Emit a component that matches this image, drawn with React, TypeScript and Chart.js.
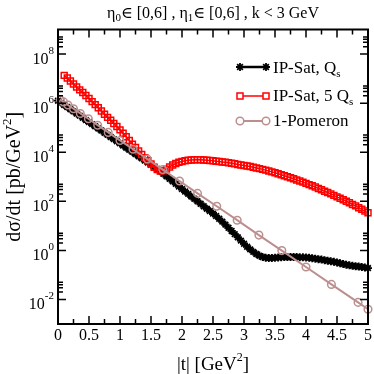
import React, { useEffect, useRef } from "react";
import { Chart, registerables } from "chart.js";

Chart.register(...registerables);

const FONT = '"Liberation Serif", "DejaVu Serif", serif';

// |t| grid (GeV^2) for the IP-Sat curves
const tGrid = [
  0, 0.05, 0.1, 0.15, 0.2, 0.25, 0.3, 0.35, 0.4, 0.45, 0.5, 0.55, 0.6, 0.65, 0.7, 0.75, 0.8, 0.85, 0.9, 0.95,
  1, 1.05, 1.1, 1.15, 1.2, 1.25, 1.3, 1.35, 1.4, 1.45, 1.5, 1.55, 1.6, 1.65, 1.7, 1.75, 1.8, 1.85, 1.9, 1.95,
  2, 2.05, 2.1, 2.15, 2.2, 2.25, 2.3, 2.35, 2.4, 2.45, 2.5, 2.55, 2.6, 2.65, 2.7, 2.75, 2.8, 2.85, 2.9, 2.95,
  3, 3.05, 3.1, 3.15, 3.2, 3.25, 3.3, 3.35, 3.4, 3.45, 3.5, 3.55, 3.6, 3.65, 3.7, 3.75, 3.8, 3.85, 3.9, 3.95,
  4, 4.05, 4.1, 4.15, 4.2, 4.25, 4.3, 4.35, 4.4, 4.45, 4.5, 4.55, 4.6, 4.65, 4.7, 4.75, 4.8, 4.85, 4.9, 4.95, 5,
];

// IP-Sat, Qs  (t = 0 ... 5)
const ipSatQs = [
  1.26e6, 1.03e6, 8.43e5, 6.9e5, 5.65e5, 4.62e5, 3.78e5, 3.1e5, 2.54e5, 2.07e5, 1.7e5, 1.39e5, 1.14e5, 9.31e4,
  7.62e4, 6.24e4, 5.11e4, 4.18e4, 3.42e4, 2.8e4, 2.29e4, 1.87e4, 1.53e4, 1.26e4, 1.03e4, 8.41e3, 6.89e3, 5.64e3,
  4.61e3, 3.78e3, 3.09e3, 2.53e3, 2.07e3, 1.66e3, 1.32e3, 1.05e3, 832, 653, 513, 403, 316, 251, 200, 158, 126,
  100, 79, 63, 50, 40, 31.6, 25.1, 19.5, 14.8, 11.2, 8.3, 6.2, 4.6, 3.4, 2.5, 1.86, 1.41, 1.1, 0.87, 0.71, 0.6,
  0.54, 0.5, 0.49, 0.49, 0.5, 0.51, 0.52, 0.54, 0.54, 0.54, 0.54, 0.54, 0.52, 0.52, 0.51, 0.5, 0.48, 0.46, 0.44,
  0.42, 0.4, 0.38, 0.36, 0.34, 0.32, 0.3, 0.28, 0.26, 0.245, 0.234, 0.224, 0.219, 0.209, 0.2, 0.19,
];

// IP-Sat, 5 Qs  (t = 0.1 ... 5)
const ipSat5Qs = [
  1.35e7, 1.05e7, 7.94e6, 6.03e6, 4.57e6, 3.47e6, 2.69e6, 2.04e6, 1.55e6, 1.15e6, 8.71e5, 6.46e5, 4.79e5, 3.55e5,
  2.63e5, 2.0e5, 1.48e5, 1.12e5, 8.13e4, 5.89e4, 4.27e4, 3.02e4, 2.14e4, 1.55e4, 1.12e4, 8.13e3, 6.03e3, 4.47e3,
  3.31e3, 2.45e3, 1.95e3, 1.7e3, 1.74e3, 2.04e3, 2.51e3, 3.02e3, 3.47e3, 3.89e3, 4.17e3, 4.47e3, 4.68e3, 4.79e3,
  4.9e3, 4.9e3, 4.9e3, 4.79e3, 4.68e3, 4.57e3, 4.47e3, 4.27e3, 4.17e3, 3.98e3, 3.89e3, 3.72e3, 3.55e3, 3.39e3,
  3.16e3, 3.02e3, 2.88e3, 2.75e3, 2.63e3, 2.45e3, 2.29e3, 2.14e3, 2.0e3, 1.86e3, 1.7e3, 1.58e3, 1.45e3, 1.32e3,
  1.2e3, 1.1e3, 1.0e3, 912, 832, 741, 676, 603, 537, 479, 427, 380, 331, 295, 257, 229, 200, 174, 151, 132, 115,
  100, 87, 74, 65, 55, 47, 40, 34,
];

// 1-Pomeron
const pomT = [0.04, 0.09, 0.16, 0.25, 0.36, 0.49, 0.64, 0.81, 1.0, 1.21, 1.44, 1.69, 1.96, 2.25, 2.56, 2.89, 3.24, 3.61, 4.0, 4.41, 4.84, 5.0];
const pomV = [1.35e6, 1.12e6, 8.4e5, 5.9e5, 3.8e5, 2.3e5, 1.26e5, 6.4e4, 3.0e4, 1.32e4, 5.3e3, 1.96e3, 670, 210, 63, 17, 4.2, 0.98, 0.21, 0.041, 0.0076, 0.004];

const xTickValues = [0, 0.5, 1, 1.5, 2, 2.5, 3, 3.5, 4, 4.5, 5];
const xTickLabels = ["0", "0.5", "1", "1.5", "2", "2.5", "3", "3.5", "4", "4.5", "5"];
const xMinorValues = [0.25, 0.75, 1.25, 1.75, 2.25, 2.75, 3.25, 3.75, 4.25, 4.75];
const yExponents = [8, 6, 4, 2, 0, -2];
const yExpLabels = ["8", "6", "4", "2", "0", "-2"];
const yMinorMultipliers = [2, 3, 4, 5];

type Part = { t: string; s: number; dy?: number };

function drawRich(ctx: CanvasRenderingContext2D, parts: Part[], x: number, y: number, align: "left" | "center" | "right") {
  let w = 0;
  for (const p of parts) {
    ctx.font = `${p.s}px ${FONT}`;
    w += ctx.measureText(p.t).width;
  }
  let cx = align === "left" ? x : align === "center" ? x - w / 2 : x - w;
  ctx.textAlign = "left";
  ctx.textBaseline = "alphabetic";
  for (const p of parts) {
    ctx.font = `${p.s}px ${FONT}`;
    ctx.fillText(p.t, cx, y + (p.dy || 0));
    cx += ctx.measureText(p.t).width;
  }
}

function drawStar(ctx: CanvasRenderingContext2D, x: number, y: number, r: number) {
  ctx.beginPath();
  for (let k = 0; k < 4; k++) {
    const a = (k * Math.PI) / 4;
    ctx.moveTo(x - r * Math.cos(a), y - r * Math.sin(a));
    ctx.lineTo(x + r * Math.cos(a), y + r * Math.sin(a));
  }
  ctx.stroke();
}

const decorPlugin = {
  id: "decor",
  afterDatasetsDraw(chart: any) {
    const ctx: CanvasRenderingContext2D = chart.ctx;
    const { left, right, top, bottom } = chart.chartArea;
    const xs = chart.scales.x;
    const ys = chart.scales.y;
    ctx.save();
    ctx.strokeStyle = "#000";
    ctx.fillStyle = "#000";

    // ticks (inward, mirrored)
    ctx.lineWidth = 1.5;
    ctx.beginPath();
    for (const v of xTickValues) {
      const px = xs.getPixelForValue(v);
      ctx.moveTo(px, bottom); ctx.lineTo(px, bottom - 8);
      ctx.moveTo(px, top); ctx.lineTo(px, top + 8);
    }
    for (const v of xMinorValues) {
      const px = xs.getPixelForValue(v);
      ctx.moveTo(px, bottom); ctx.lineTo(px, bottom - 5);
      ctx.moveTo(px, top); ctx.lineTo(px, top + 5);
    }
    for (const e of yExponents) {
      const py = ys.getPixelForValue(Math.pow(10, e));
      ctx.moveTo(left, py); ctx.lineTo(left + 8, py);
      ctx.moveTo(right, py); ctx.lineTo(right - 8, py);
      for (const m of yMinorMultipliers) {
        const pm = ys.getPixelForValue(m * Math.pow(10, e));
        ctx.moveTo(left, pm); ctx.lineTo(left + 5, pm);
        ctx.moveTo(right, pm); ctx.lineTo(right - 5, pm);
      }
    }
    ctx.stroke();

    // frame
    ctx.lineWidth = 2;
    ctx.strokeRect(left, top, right - left, bottom - top);

    // y tick labels
    yExponents.forEach((e, i) => {
      const py = ys.getPixelForValue(Math.pow(10, e));
      drawRich(ctx, [{ t: "10", s: 16 }, { t: yExpLabels[i], s: 11, dy: -10 }], left - 4, py + 10, "right");
    });

    // title
    drawRich(
      ctx,
      [
        { t: "η", s: 16 },
        { t: "0", s: 11, dy: 3 },
        { t: "∈ [0,6] , η", s: 16 },
        { t: "1", s: 11, dy: 3 },
        { t: "∈ [0,6] , k < 3 GeV", s: 16 },
      ],
      (left + right) / 2,
      18,
      "center"
    );

    // x axis title
    drawRich(ctx, [{ t: "|t| [GeV", s: 19 }, { t: "2", s: 12, dy: -9 }, { t: "]", s: 19 }], (left + right) / 2, 370, "center");

    // y axis title
    ctx.save();
    ctx.translate(20, (top + bottom) / 2);
    ctx.rotate(-Math.PI / 2);
    drawRich(ctx, [{ t: "dσ/dt [pb/GeV", s: 20 }, { t: "2", s: 13, dy: -9 }, { t: "]", s: 20 }], 0, 0, "center");
    ctx.restore();

    // legend
    const x1 = 240, x2 = 266, tx = 273;
    // row 1
    ctx.strokeStyle = "#000";
    ctx.lineWidth = 2.5;
    ctx.beginPath(); ctx.moveTo(x1, 67); ctx.lineTo(x2, 67); ctx.stroke();
    ctx.lineWidth = 1.8;
    drawStar(ctx, x1, 67, 4);
    drawStar(ctx, x2, 67, 4);
    ctx.fillStyle = "#000";
    drawRich(ctx, [{ t: "IP-Sat, Q", s: 17 }, { t: "s", s: 11, dy: 4 }], tx, 73, "left");
    // row 2
    ctx.strokeStyle = "#ff0000";
    ctx.lineWidth = 1.5;
    ctx.beginPath(); ctx.moveTo(x1, 96); ctx.lineTo(x2, 96); ctx.stroke();
    ctx.fillStyle = "#fff";
    ctx.fillRect(x1 - 3, 93, 6, 6); ctx.fillRect(x2 - 3, 93, 6, 6);
    ctx.strokeRect(x1 - 3, 93, 6, 6);
    ctx.strokeRect(x2 - 3, 93, 6, 6);
    ctx.fillStyle = "#000";
    drawRich(ctx, [{ t: "IP-Sat, 5 Q", s: 17 }, { t: "s", s: 11, dy: 4 }], tx, 101, "left");
    // row 3
    ctx.strokeStyle = "#bc8f8f";
    ctx.lineWidth = 2;
    ctx.beginPath(); ctx.moveTo(x1, 121); ctx.lineTo(x2, 121); ctx.stroke();
    ctx.fillStyle = "#fff";
    ctx.lineWidth = 1.5;
    for (const cx of [x1, x2]) {
      ctx.beginPath(); ctx.arc(cx, 121, 3.8, 0, Math.PI * 2); ctx.fill(); ctx.stroke();
    }
    ctx.fillStyle = "#000";
    drawRich(ctx, [{ t: "1-Pomeron", s: 17 }], tx, 126, "left");

    ctx.restore();
  },
};

export default function App() {
  const ref = useRef<HTMLCanvasElement | null>(null);
  useEffect(() => {
    if (!ref.current) return;
    const chart = new Chart(ref.current, {
      type: "line",
      data: {
        datasets: [
          {
            label: "1-Pomeron",
            data: pomT.map((t, i) => ({ x: t, y: pomV[i] })),
            borderColor: "#bc8f8f",
            backgroundColor: "rgba(0,0,0,0)",
            borderWidth: 2,
            pointStyle: "circle",
            pointRadius: 3.8,
            pointBorderWidth: 1.5,
            pointBorderColor: "#bc8f8f",
            pointBackgroundColor: "rgba(0,0,0,0)",
            clip: false,
          } as any,
          {
            label: "IP-Sat, 5 Qs",
            data: ipSat5Qs.map((v, i) => ({ x: tGrid[i + 2], y: v })),
            borderColor: "#ff0000",
            backgroundColor: "rgba(0,0,0,0)",
            borderWidth: 1.5,
            pointStyle: "rect",
            pointRadius: 4.2,
            pointBorderWidth: 1.5,
            pointBorderColor: "#ff0000",
            pointBackgroundColor: "rgba(0,0,0,0)",
            clip: false,
          } as any,
          {
            label: "IP-Sat, Qs",
            data: ipSatQs.map((v, i) => ({ x: tGrid[i], y: v })),
            borderColor: "#000",
            backgroundColor: "rgba(0,0,0,0)",
            borderWidth: 2,
            pointStyle: "star",
            pointRadius: 4,
            pointBorderWidth: 1.8,
            pointBorderColor: "#000",
            pointBackgroundColor: "#000",
            clip: false,
          } as any,
        ],
      },
      options: {
        animation: false,
        responsive: true,
        maintainAspectRatio: false,
        events: [],
        layout: { padding: { top: 29.5, right: 6, left: 0, bottom: 0 } },
        plugins: { legend: { display: false }, tooltip: { enabled: false }, title: { display: false } },
        scales: {
          x: {
            type: "linear",
            min: 0,
            max: 5,
            afterFit: (s: any) => { s.height = 50; },
            afterBuildTicks: (s: any) => { s.ticks = xTickValues.map((v) => ({ value: v })); },
            grid: { display: false, drawTicks: false },
            border: { display: false },
            ticks: {
              autoSkip: false,
              maxRotation: 0,
              color: "#000",
              padding: 2,
              font: { family: FONT, size: 16 },
              callback: (_v: any, i: number) => xTickLabels[i],
            },
          },
          y: {
            type: "logarithmic",
            min: 1e-3,
            max: 1e9,
            afterFit: (s: any) => { s.width = 58; },
            grid: { display: false, drawTicks: false },
            border: { display: false },
            ticks: { display: false },
          },
        },
      } as any,
      plugins: [decorPlugin],
    });
    return () => chart.destroy();
  }, []);
  return (
    <div style={{ position: "absolute", left: 0, top: 0, width: 374, height: 374, background: "#fff" }}>
      <canvas ref={ref} />
    </div>
  );
}
